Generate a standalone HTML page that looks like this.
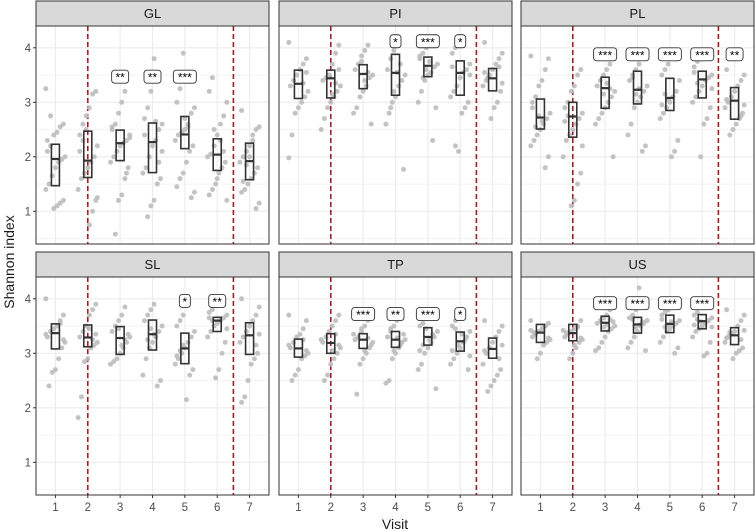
<!DOCTYPE html>
<html><head><meta charset="utf-8"><style>
html,body{margin:0;padding:0;background:#fff;}
svg{display:block;font-family:"Liberation Sans",sans-serif;}
</style></head><body>
<svg id="chart" width="756" height="532" viewBox="0 0 756 532" xmlns="http://www.w3.org/2000/svg"></svg>
<script>
const panels = ["GL","PI","PL","SL","TP","US"];
const visits = [1,2,3,4,5,6,7];
const yTicks = [1,2,3,4];
// box stats per panel: [q1, median, q3] per visit
const boxGL = [[1.47,1.96,2.23],[1.62,1.93,2.47],[1.93,2.25,2.49],[1.71,2.27,2.62],[2.15,2.41,2.74],[1.75,2.04,2.33],[1.58,1.92,2.25]];
const boxPI = [[3.07,3.34,3.59],[3.08,3.44,3.59],[3.25,3.52,3.69],[3.13,3.54,3.88],[3.47,3.67,3.83],[3.13,3.54,3.76],[3.21,3.44,3.62]];
const boxPL = [[2.51,2.72,3.06],[2.36,2.74,3.00],[2.89,3.26,3.46],[2.97,3.23,3.57],[2.85,3.08,3.44],[3.08,3.42,3.57],[2.69,3.03,3.27]];
const boxSL = [[3.08,3.37,3.54],[3.12,3.29,3.52],[2.98,3.28,3.49],[3.06,3.35,3.61],[2.81,3.09,3.37],[3.40,3.60,3.66],[2.98,3.33,3.56]];
const boxTP = [[2.93,3.09,3.26],[3.00,3.19,3.36],[3.09,3.25,3.36],[3.11,3.25,3.40],[3.15,3.30,3.47],[3.04,3.22,3.39],[2.91,3.08,3.28]];
const boxUS = [[3.20,3.38,3.53],[3.23,3.37,3.53],[3.41,3.56,3.68],[3.37,3.53,3.66],[3.38,3.54,3.70],[3.45,3.59,3.71],[3.16,3.33,3.47]];
// significance labels per visit
const sigGL = ["","","**","**","***","",""];
const sigPI = ["","","","*","***","*",""];
const sigPL = ["","","***","***","***","***","**"];
const sigSL = ["","","","","*","**",""];
const sigTP = ["","","***","**","***","*",""];
const sigUS = ["","","***","***","***","***",""];
const sigY = [3.47,4.12,3.88,3.96,3.72,3.92];
// observed points per visit
const ptsGL = [[3.25,2.6,2.55,2.45,2.4,2.2,2.1,2.0,1.95,1.9,1.8,1.65,1.5,1.4,1.2,1.15,1.1,1.05,2.75,2.3],[3.2,3.15,2.9,2.75,2.6,2.4,2.2,2.0,1.9,1.8,1.7,1.6,1.4,1.2,1.0,0.75,2.5,2.3,2.1,1.25],[3.2,3.0,2.8,2.6,2.5,2.4,2.3,2.25,2.2,2.1,2.0,1.9,1.8,1.6,1.3,1.2,0.58,2.55,2.35,1.7],[3.8,3.2,2.9,2.7,2.6,2.5,2.3,2.2,2.0,1.8,1.7,1.6,1.5,1.2,1.1,0.9,2.4,2.1,1.9,2.65],[3.9,3.25,3.0,2.9,2.8,2.6,2.5,2.45,2.4,2.3,2.2,2.1,1.9,1.7,1.6,1.45,1.35,1.25,2.55,2.7],[3.45,3.2,3.0,2.75,2.6,2.4,2.2,2.05,2.0,1.9,1.8,1.7,1.5,1.4,1.3,1.2,2.1,2.3,1.6,2.5],[2.85,2.55,2.5,2.4,2.2,2.1,2.0,1.9,1.8,1.7,1.6,1.5,1.4,1.35,1.15,1.05,2.3,2.0,1.85,1.55]];
const ptsPI = [[4.1,3.8,3.7,3.6,3.5,3.4,3.3,3.2,3.1,3.0,2.9,2.8,2.4,1.98,3.55,3.35],[4.05,3.9,3.7,3.5,3.45,3.4,3.3,3.2,3.1,3.0,2.9,2.7,2.5,3.6,3.35,3.15],[4.05,3.95,3.85,3.7,3.6,3.5,3.45,3.3,3.2,3.1,2.9,2.8,2.6,3.55,3.4,3.75],[4.1,3.95,3.8,3.6,3.5,3.4,3.3,3.1,3.0,2.8,2.6,1.77,3.7,3.55,3.2,2.9],[4.0,3.9,3.8,3.7,3.65,3.55,3.5,3.4,3.2,3.0,2.9,2.3,3.75,3.6,3.45,3.85],[4.0,3.9,3.7,3.6,3.55,3.45,3.3,3.2,3.1,3.0,2.9,2.8,2.1,2.2,3.65,3.5],[4.1,3.9,3.8,3.7,3.6,3.5,3.4,3.3,3.2,3.0,2.9,2.7,3.45,3.55,3.35,3.65]];
const ptsPL = [[3.85,3.8,3.6,3.4,3.3,3.1,2.9,2.8,2.7,2.6,2.5,2.4,2.3,2.2,2.0,1.8,2.65,2.75,2.55,3.0],[3.6,3.5,3.3,3.2,3.0,2.9,2.8,2.7,2.6,2.5,2.4,2.3,2.0,1.7,1.5,1.2,1.1,2.75,2.65,2.2],[3.7,3.6,3.5,3.4,3.3,3.2,3.1,3.0,2.9,2.8,2.7,2.6,2.0,3.25,3.35,3.15],[3.7,3.6,3.5,3.4,3.3,3.2,3.1,3.0,2.9,2.6,2.4,2.2,2.1,3.25,3.15,3.45],[3.7,3.6,3.5,3.4,3.2,3.1,3.0,2.9,2.8,2.7,2.3,2.1,2.0,3.05,3.15,2.95],[3.75,3.65,3.5,3.45,3.4,3.3,3.2,3.1,3.0,2.9,2.7,2.6,2.0,3.35,3.55,3.25],[3.6,3.5,3.4,3.3,3.2,3.1,3.0,2.9,2.8,2.7,2.6,2.5,2.4,3.05,2.95,2.75]];
const ptsSL = [[4.0,3.7,3.6,3.5,3.45,3.4,3.3,3.2,3.1,2.9,2.7,2.65,2.4,3.35,3.25,3.55],[3.9,3.8,3.7,3.5,3.4,3.3,3.2,3.15,3.1,2.9,2.85,2.2,1.82,3.35,3.25,3.45],[3.85,3.7,3.6,3.5,3.4,3.3,3.2,3.1,3.0,2.9,2.85,2.8,3.35,3.25,3.15,3.45],[3.9,3.8,3.7,3.6,3.5,3.4,3.3,3.2,3.1,2.9,2.6,2.5,2.4,3.35,3.45,3.25],[3.7,3.6,3.5,3.4,3.3,3.2,3.1,3.0,2.9,2.8,2.7,2.6,2.15,3.15,3.05,2.95],[3.8,3.75,3.7,3.65,3.6,3.55,3.5,3.4,3.3,3.2,3.0,2.7,2.55,3.6,3.65,3.45],[4.0,3.85,3.7,3.6,3.5,3.4,3.3,3.2,3.0,2.9,2.8,2.5,2.2,2.1,3.35,3.15]];
const ptsTP = [[3.7,3.6,3.45,3.35,3.3,3.2,3.1,3.0,2.95,2.9,2.7,2.6,2.5,3.15,3.05,3.25],[3.7,3.6,3.5,3.4,3.3,3.2,3.1,3.0,2.9,2.8,2.6,2.5,3.25,3.15,3.35,3.05],[3.6,3.5,3.4,3.3,3.25,3.2,3.1,3.0,2.9,2.8,2.25,3.35,3.15,3.28,3.05,3.45],[3.6,3.5,3.4,3.3,3.25,3.2,3.1,3.0,2.9,2.5,2.45,3.35,3.15,3.28,3.05,3.45],[3.65,3.55,3.5,3.4,3.3,3.2,3.1,3.0,2.8,2.7,2.35,3.35,3.25,3.45,3.15,3.05],[3.6,3.5,3.4,3.3,3.2,3.1,3.0,2.9,2.8,2.7,3.25,3.35,3.15,3.45,3.05,2.95],[3.6,3.5,3.4,3.3,3.2,3.1,3.0,2.8,2.7,2.6,2.5,2.4,2.3,3.05,3.15,2.9]];
const ptsUS = [[3.6,3.55,3.5,3.45,3.4,3.35,3.3,3.25,3.2,3.15,3.0,2.9,3.38,3.42,3.28,3.5],[3.6,3.5,3.45,3.4,3.35,3.3,3.25,3.2,3.1,3.0,2.9,3.38,3.42,3.28,3.48,3.15],[3.8,3.7,3.65,3.6,3.55,3.5,3.45,3.4,3.3,3.2,3.1,3.05,3.58,3.62,3.52,3.48],[4.2,3.8,3.7,3.65,3.6,3.55,3.5,3.4,3.3,3.2,3.1,3.05,3.58,3.52,3.48,3.62],[3.8,3.75,3.7,3.6,3.55,3.5,3.45,3.4,3.3,3.2,3.1,3.0,3.58,3.52,3.48,3.62],[3.75,3.7,3.65,3.6,3.55,3.5,3.45,3.4,3.3,3.2,3.0,2.95,3.58,3.62,3.52,3.48],[3.8,3.7,3.6,3.5,3.4,3.35,3.3,3.2,3.1,3.05,3.0,2.9,3.38,3.28,3.42,3.25]];
const boxes = [boxGL,boxPI,boxPL,boxSL,boxTP,boxUS];
const sigs = [sigGL,sigPI,sigPL,sigSL,sigTP,sigUS];
const pts = [ptsGL,ptsPI,ptsPL,ptsSL,ptsTP,ptsUS];
const vlines = [2,6.5];

const svg = document.getElementById('chart');
const NS = 'http://www.w3.org/2000/svg';
function mk(tag, attrs, parent){const e=document.createElementNS(NS,tag);for(const k in attrs)e.setAttribute(k,attrs[k]);(parent||svg).appendChild(e);return e;}
const colX = [36,279,521], PW = 233;
const rowTop = [26,277], PH = 218, stripH = 25;
const yMin = 0.4, yMax = 4.4;
function xs(c, v){return colX[c] + (v-0.4)/7.2*PW;}
function ys(r, v){return rowTop[r] + PH - (v-yMin)/(yMax-yMin)*PH;}

panels.forEach((name, p) => {
  const c = p%3, r = Math.floor(p/3);
  const g = mk('g', {});
  
  
  const x0 = colX[c], y0 = rowTop[r];
  const st = mk('rect', {x:x0, y:y0-stripH, width:PW, height:stripH, fill:'#d9d9d9', stroke:'#333', 'stroke-width':1}, g);
  
  
  const stt = mk('text', {x:x0+PW/2, y:y0-stripH/2+4.5, 'text-anchor':'middle', 'font-size':13, fill:'#1a1a1a'}, g);
  stt.textContent = name;
  
  
  for (let v=0.5; v<=4.4; v+=1){ mk('line',{x1:x0,x2:x0+PW,y1:ys(r,v),y2:ys(r,v),stroke:'#f2f2f2','stroke-width':0.8},g); }
  yTicks.forEach(v => { mk('line',{x1:x0,x2:x0+PW,y1:ys(r,v),y2:ys(r,v),stroke:'#ebebeb','stroke-width':1.1},g); });
  visits.forEach(v => { mk('line',{x1:xs(c,v),x2:xs(c,v),y1:y0,y2:y0+PH,stroke:'#ebebeb','stroke-width':1.1},g); });
  vlines.forEach(v => {
    const l = mk('line',{x1:xs(c,v),x2:xs(c,v),y1:y0,y2:y0+PH,stroke:'#a31a22','stroke-width':1.6,'stroke-dasharray':'5,3'},g);
    
    
  });
  pts[p].forEach((arr, vi) => {
    arr.forEach((val, i) => {
      const jit = (((i*37+vi*11)%13)-6)*1.6;
      const pt = mk('circle',{cx:xs(c,visits[vi])+jit, cy:ys(r,val), r:2.5, fill:'#bdbdbd', 'fill-opacity':0.9},g);
      
      
    });
  });
  boxes[p].forEach((b, vi) => {
    const cx = xs(c, visits[vi]);
    const bx = mk('rect',{x:cx-4, y:ys(r,b[2]), width:8, height:ys(r,b[0])-ys(r,b[2]), fill:'none', stroke:'#333','stroke-width':1.6},g);
    
    
    const md = mk('line',{x1:cx-4,x2:cx+4,y1:ys(r,b[1]),y2:ys(r,b[1]),stroke:'#333','stroke-width':2.2},g);
    
    
  });
  sigs[p].forEach((s, vi) => {
    if (!s) return;
    const cx = xs(c, visits[vi]), cy = ys(r, sigY[p]);
    const w = 5 + s.length*6;
    const lb = mk('rect',{x:cx-w/2, y:cy-6.5, width:w, height:13, rx:3, fill:'#fff', stroke:'#333','stroke-width':0.9},g);
    
    
    const t = mk('text',{x:cx, y:cy+5, 'text-anchor':'middle', 'font-size':12, fill:'#000'},g);
    t.textContent = s;
    
    
  });
  mk('rect',{x:x0, y:y0, width:PW, height:PH, fill:'none', stroke:'#333','stroke-width':1},g);
  if (c === 0) {
    yTicks.forEach(v => {
      mk('line',{x1:x0-3,x2:x0,y1:ys(r,v),y2:ys(r,v),stroke:'#333','stroke-width':1},g);
      const t = mk('text',{x:x0-5, y:ys(r,v)+4, 'text-anchor':'end', 'font-size':11.5, fill:'#4d4d4d'},g);
      t.textContent = v;
      
      
    });
  }
  if (r === 1) {
    visits.forEach(v => {
      mk('line',{x1:xs(c,v),x2:xs(c,v),y1:y0+PH,y2:y0+PH+3,stroke:'#333','stroke-width':1},g);
      const t = mk('text',{x:xs(c,v), y:y0+PH+16, 'text-anchor':'middle', 'font-size':11.5, fill:'#4d4d4d'},g);
      t.textContent = v;
      
      
    });
  }
});
const yt = mk('text',{x:0,y:0,'text-anchor':'middle','font-size':14,fill:'#1a1a1a',transform:'translate(14,262) rotate(-90)'});
yt.textContent = 'Shannon index';


const xt = mk('text',{x:395,y:529,'text-anchor':'middle','font-size':14,fill:'#1a1a1a'});
xt.textContent = 'Visit';


</script>
</body></html>
